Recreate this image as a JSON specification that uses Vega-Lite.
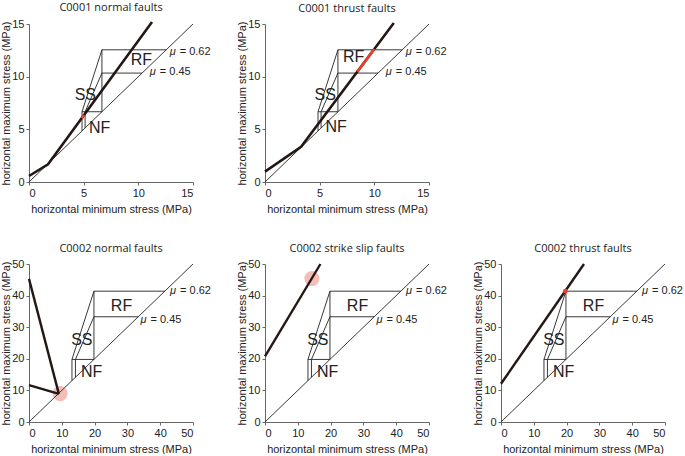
{
  "$schema": "https://vega.github.io/schema/vega-lite/v6.json",
  "autosize": {"type": "pad"},
  "padding": {"left": 0, "top": 1, "right": 0, "bottom": 0},
  "background": "white",
  "bounds": "flush",
  "columns": 3,
  "spacing": {"column": 72, "row": 82},
  "config": {
    "view": {"stroke": null},
    "font": "Liberation Sans",
    "axis": {"grid": false, "domainColor": "#666", "tickColor": "#666", "tickSize": 3, "labelFontSize": 11, "titleFontSize": 11, "labelFont": "Liberation Sans", "titleFont": "Liberation Sans", "titleFontWeight": "normal", "labelColor": "#222", "titleColor": "#222", "labelPadding": 2},
    "axisX": {"titlePadding": 5},
    "axisY": {"titlePadding": 0},
    "title": {"font": "Open Sans", "fontSize": 11, "fontWeight": "normal", "color": "#222", "offset": 4}
  },
  "datasets": {
    "poly1": [
      {"s": "diag", "o": 1, "x": 0, "y": 0}, {"s": "diag", "o": 2, "x": 15, "y": 15},
      {"s": "a62", "o": 1, "x": 4.85, "y": 4.85}, {"s": "a62", "o": 2, "x": 4.85, "y": 6.67}, {"s": "a62", "o": 3, "x": 6.67, "y": 12.55}, {"s": "a62", "o": 4, "x": 12.55, "y": 12.55},
      {"s": "a45", "o": 1, "x": 5.13, "y": 5.13}, {"s": "a45", "o": 2, "x": 5.13, "y": 6.67}, {"s": "a45", "o": 3, "x": 6.67, "y": 10.34}, {"s": "a45", "o": 4, "x": 10.34, "y": 10.34},
      {"s": "hsv", "o": 1, "x": 4.85, "y": 6.67}, {"s": "hsv", "o": 2, "x": 6.67, "y": 6.67},
      {"s": "vsv", "o": 1, "x": 6.67, "y": 6.67}, {"s": "vsv", "o": 2, "x": 6.67, "y": 12.55}
    ],
    "poly2": [
      {"s": "diag", "o": 1, "x": 0, "y": 0}, {"s": "diag", "o": 2, "x": 50, "y": 50},
      {"s": "a62", "o": 1, "x": 13.1, "y": 13.1}, {"s": "a62", "o": 2, "x": 13.1, "y": 19.8}, {"s": "a62", "o": 3, "x": 19.8, "y": 41.4}, {"s": "a62", "o": 4, "x": 41.4, "y": 41.4},
      {"s": "a45", "o": 1, "x": 14.16, "y": 14.16}, {"s": "a45", "o": 2, "x": 14.16, "y": 19.8}, {"s": "a45", "o": 3, "x": 19.8, "y": 33.3}, {"s": "a45", "o": 4, "x": 33.3, "y": 33.3},
      {"s": "hsv", "o": 1, "x": 13.1, "y": 19.8}, {"s": "hsv", "o": 2, "x": 19.8, "y": 19.8},
      {"s": "vsv", "o": 1, "x": 19.8, "y": 19.8}, {"s": "vsv", "o": 2, "x": 19.8, "y": 41.4}
    ],
    "reg2": [
      {"t": "RF", "x": 28.2, "y": 36.7}, {"t": "SS", "x": 16.1, "y": 26.0}, {"t": "NF", "x": 19.1, "y": 15.7}
    ],
    "mu2": [
      {"m": "μ", "r": "= 0.62", "x": 43.0, "y": 41.3}, {"m": "μ", "r": "= 0.45", "x": 34.0, "y": 32.3}
    ],
    "mu1": [
      {"m": "μ", "r": "= 0.62", "x": 12.87, "y": 12.35}, {"m": "μ", "r": "= 0.45", "x": 11.05, "y": 10.42}
    ]
  },
  "concat": [
    {
      "width": 164, "height": 158,
      "title": "C0001 normal faults",
      "encoding": {
        "x": {"field": "x", "type": "quantitative", "scale": {"domain": [0, 15]}, "axis": {"values": [0, 5, 10, 15], "title": "horizontal minimum stress (MPa)"}},
        "y": {"field": "y", "type": "quantitative", "scale": {"domain": [0, 15]}, "axis": {"values": [0, 5, 10, 15], "title": "horizontal maximum stress (MPa)"}}
      },
      "layer": [
        {"data": {"name": "poly1"}, "mark": {"type": "line", "strokeWidth": 0.9, "color": "#222"}, "encoding": {"detail": {"field": "s"}, "order": {"field": "o"}}},
        {"data": {"values": [{"x": 0, "y": 0.57}, {"x": 1.74, "y": 1.68}, {"x": 11.25, "y": 15.19}]}, "mark": {"type": "line", "strokeWidth": 2.6, "color": "#231815"}, "encoding": {}},
        {"data": {"values": [{"x": 4.82, "y": 6.05}, {"x": 5.02, "y": 6.38}]}, "mark": {"type": "line", "strokeWidth": 2.6, "color": "#e6412a"}, "encoding": {}},
        {"data": {"values": [{"t": "RF", "x": 10.27, "y": 11.6}, {"t": "SS", "x": 5.15, "y": 8.26}, {"t": "NF", "x": 6.46, "y": 5.08}]}, "mark": {"type": "text", "fontSize": 16, "color": "#222"}, "encoding": {"text": {"field": "t"}}},
        {"data": {"name": "mu1"}, "mark": {"type": "text", "fontSize": 11, "fontStyle": "italic", "align": "left", "color": "#222"}, "encoding": {"text": {"field": "m"}}},
        {"data": {"name": "mu1"}, "mark": {"type": "text", "fontSize": 11, "align": "left", "dx": 10, "color": "#222"}, "encoding": {"text": {"field": "r"}}}
      ]
    },
    {
      "width": 164, "height": 158,
      "title": "C0001 thrust faults",
      "encoding": {
        "x": {"field": "x", "type": "quantitative", "scale": {"domain": [0, 15]}, "axis": {"values": [0, 5, 10, 15], "title": "horizontal minimum stress (MPa)"}},
        "y": {"field": "y", "type": "quantitative", "scale": {"domain": [0, 15]}, "axis": {"values": [0, 5, 10, 15], "title": "horizontal maximum stress (MPa)"}}
      },
      "layer": [
        {"data": {"name": "poly1"}, "mark": {"type": "line", "strokeWidth": 0.9, "color": "#222"}, "encoding": {"detail": {"field": "s"}, "order": {"field": "o"}}},
        {"data": {"values": [{"x": 0, "y": 0.99}, {"x": 3.3, "y": 3.34}, {"x": 11.78, "y": 15.1}]}, "mark": {"type": "line", "strokeWidth": 2.6, "color": "#231815"}, "encoding": {}},
        {"data": {"values": [{"x": 8.45, "y": 10.48}, {"x": 10.0, "y": 12.63}]}, "mark": {"type": "line", "strokeWidth": 2.6, "color": "#e6412a"}, "encoding": {}},
        {"data": {"values": [{"t": "RF", "x": 8.1, "y": 11.9}, {"t": "SS", "x": 5.5, "y": 8.3}, {"t": "NF", "x": 6.5, "y": 5.2}]}, "mark": {"type": "text", "fontSize": 16, "color": "#222"}, "encoding": {"text": {"field": "t"}}},
        {"data": {"name": "mu1"}, "mark": {"type": "text", "fontSize": 11, "fontStyle": "italic", "align": "left", "color": "#222"}, "encoding": {"text": {"field": "m"}}},
        {"data": {"name": "mu1"}, "mark": {"type": "text", "fontSize": 11, "align": "left", "dx": 10, "color": "#222"}, "encoding": {"text": {"field": "r"}}}
      ]
    },
    {
      "width": 164, "height": 158,
      "data": {"values": [{"x": 0, "y": 0}]},
      "mark": {"type": "point", "opacity": 0},
      "encoding": {
        "x": {"field": "x", "type": "quantitative", "axis": null},
        "y": {"field": "y", "type": "quantitative", "axis": null}
      }
    },
    {
      "width": 164, "height": 158,
      "title": "C0002 normal faults",
      "encoding": {
        "x": {"field": "x", "type": "quantitative", "scale": {"domain": [0, 50]}, "axis": {"values": [0, 10, 20, 30, 40, 50], "title": "horizontal minimum stress (MPa)"}},
        "y": {"field": "y", "type": "quantitative", "scale": {"domain": [0, 50]}, "axis": {"values": [0, 10, 20, 30, 40, 50], "title": "horizontal maximum stress (MPa)"}}
      },
      "layer": [
        {"data": {"values": [{"x": 9.5, "y": 9.0}]}, "mark": {"type": "circle", "size": 230, "color": "#f1b2ab", "opacity": 0.85}, "encoding": {}},
        {"data": {"name": "poly2"}, "mark": {"type": "line", "strokeWidth": 0.9, "color": "#222"}, "encoding": {"detail": {"field": "s"}, "order": {"field": "o"}}},
        {"data": {"values": [{"l": "a", "o": 1, "x": 0, "y": 45.3}, {"l": "a", "o": 2, "x": 9.1, "y": 8.9}, {"l": "b", "o": 1, "x": 0, "y": 11.7}, {"l": "b", "o": 2, "x": 9.1, "y": 8.9}]}, "mark": {"type": "line", "strokeWidth": 2.4, "color": "#231815"}, "encoding": {"detail": {"field": "l"}, "order": {"field": "o"}}},
        {"data": {"name": "reg2"}, "mark": {"type": "text", "fontSize": 16, "color": "#222"}, "encoding": {"text": {"field": "t"}}},
        {"data": {"name": "mu2"}, "mark": {"type": "text", "fontSize": 11, "fontStyle": "italic", "align": "left", "color": "#222"}, "encoding": {"text": {"field": "m"}}},
        {"data": {"name": "mu2"}, "mark": {"type": "text", "fontSize": 11, "align": "left", "dx": 10, "color": "#222"}, "encoding": {"text": {"field": "r"}}}
      ]
    },
    {
      "width": 164, "height": 158,
      "title": "C0002 strike slip faults",
      "encoding": {
        "x": {"field": "x", "type": "quantitative", "scale": {"domain": [0, 50]}, "axis": {"values": [0, 10, 20, 30, 40, 50], "title": "horizontal minimum stress (MPa)"}},
        "y": {"field": "y", "type": "quantitative", "scale": {"domain": [0, 50]}, "axis": {"values": [0, 10, 20, 30, 40, 50], "title": "horizontal maximum stress (MPa)"}}
      },
      "layer": [
        {"data": {"values": [{"x": 14.3, "y": 45.4}]}, "mark": {"type": "circle", "size": 230, "color": "#f1b2ab", "opacity": 0.85}, "encoding": {}},
        {"data": {"name": "poly2"}, "mark": {"type": "line", "strokeWidth": 0.9, "color": "#222"}, "encoding": {"detail": {"field": "s"}, "order": {"field": "o"}}},
        {"data": {"values": [{"x": 0, "y": 20.8}, {"x": 16.9, "y": 50}]}, "mark": {"type": "line", "strokeWidth": 2.4, "color": "#231815"}, "encoding": {}},
        {"data": {"name": "reg2"}, "mark": {"type": "text", "fontSize": 16, "color": "#222"}, "encoding": {"text": {"field": "t"}}},
        {"data": {"name": "mu2"}, "mark": {"type": "text", "fontSize": 11, "fontStyle": "italic", "align": "left", "color": "#222"}, "encoding": {"text": {"field": "m"}}},
        {"data": {"name": "mu2"}, "mark": {"type": "text", "fontSize": 11, "align": "left", "dx": 10, "color": "#222"}, "encoding": {"text": {"field": "r"}}}
      ]
    },
    {
      "width": 164, "height": 158,
      "title": "C0002 thrust faults",
      "encoding": {
        "x": {"field": "x", "type": "quantitative", "scale": {"domain": [0, 50]}, "axis": {"values": [0, 10, 20, 30, 40, 50], "title": "horizontal minimum stress (MPa)"}},
        "y": {"field": "y", "type": "quantitative", "scale": {"domain": [0, 50]}, "axis": {"values": [0, 10, 20, 30, 40, 50], "title": "horizontal maximum stress (MPa)"}}
      },
      "layer": [
        {"data": {"name": "poly2"}, "mark": {"type": "line", "strokeWidth": 0.9, "color": "#222"}, "encoding": {"detail": {"field": "s"}, "order": {"field": "o"}}},
        {"data": {"values": [{"x": 0, "y": 12.1}, {"x": 25.3, "y": 50}]}, "mark": {"type": "line", "strokeWidth": 2.4, "color": "#231815"}, "encoding": {}},
        {"data": {"values": [{"x": 19.6, "y": 41.4}]}, "mark": {"type": "circle", "size": 22, "color": "#e6412a", "opacity": 1}, "encoding": {}},
        {"data": {"name": "reg2"}, "mark": {"type": "text", "fontSize": 16, "color": "#222"}, "encoding": {"text": {"field": "t"}}},
        {"data": {"name": "mu2"}, "mark": {"type": "text", "fontSize": 11, "fontStyle": "italic", "align": "left", "color": "#222"}, "encoding": {"text": {"field": "m"}}},
        {"data": {"name": "mu2"}, "mark": {"type": "text", "fontSize": 11, "align": "left", "dx": 10, "color": "#222"}, "encoding": {"text": {"field": "r"}}}
      ]
    }
  ]
}
